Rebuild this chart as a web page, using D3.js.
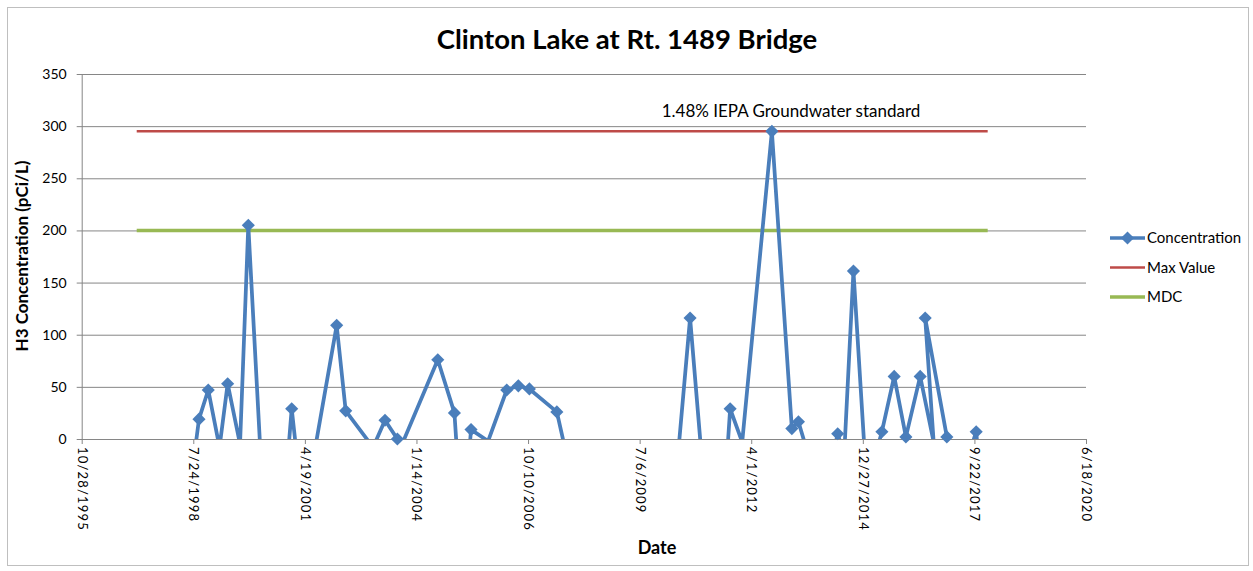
<!DOCTYPE html>
<html>
<head>
<meta charset="utf-8">
<script src="https://cdn.jsdelivr.net/npm/d3@7"></script>
<style>
  body { margin: 0; background: #fff; }
  svg text { font-family: Lato, "Open Sans", sans-serif; fill: #000; }
</style>
</head>
<body>
<script>
const width = 1253;
const height = 571;

// sample dates and H3 concentrations (pCi/L); negatives fall below the axis and get clipped
const sampleDates = [
  "1997-03-04", "1997-09-29", "1998-03-27", "1998-08-09", "1998-09-13", "1998-12-05",
  "1999-03-16", "1999-05-28", "1999-09-16", "1999-11-29", "2000-03-13", "2000-07-25",
  "2000-11-19", "2000-12-22", "2001-02-10", "2001-07-18", "2002-01-29", "2002-04-20",
  "2002-12-21", "2003-04-07", "2003-07-27", "2003-09-07", "2004-07-23", "2004-12-19",
  "2005-01-16", "2005-04-29", "2005-05-17", "2005-10-17", "2006-04-02", "2006-07-15",
  "2006-10-22", "2007-06-25", "2007-08-29", "2008-07-17", "2009-07-10", "2010-06-11",
  "2010-10-01", "2011-01-11", "2011-08-29", "2011-09-25", "2012-01-11", "2012-10-03",
  "2013-03-31", "2013-05-29", "2013-07-28", "2014-04-14", "2014-05-16", "2014-07-13",
  "2014-10-04", "2015-01-08", "2015-05-21", "2015-06-16", "2015-10-04", "2016-01-17",
  "2016-05-24", "2016-09-22", "2016-07-08", "2017-01-18", "2017-02-17", "2017-09-02",
  "2017-10-08", "2017-11-08", "2018-01-19"
];
const concentration = [
  -20, -30, -10, -10, 19, 47,
  -8, 53, -5, 205, -5, -20,
  -15, 29, -20, -10, 109, 27,
  -8, 18, 0, -5, 76, 25,
  -20, -15, 9, -2, 47, 51,
  48, 26, -5, -30, -15, -20,
  116, -15, -15, 29, -3, 295,
  10, 16.5, -5, -10, 5, -15,
  161, -5, -3, 7, 60, 2,
  60, -3, 116, 2, -5, -5,
  7, -30, -10
];

const maxValue = 295;
const mdcValue = 200;
const refLineDates = ["1997-03-04", "2018-01-19"];

const xTickLabels = ["10/28/1995", "7/24/1998", "4/19/2001", "1/14/2004", "10/10/2006",
                     "7/6/2009", "4/1/2012", "12/27/2014", "9/22/2017", "6/18/2020"];
const yTicks = [0, 50, 100, 150, 200, 250, 300, 350];

const seriesNames = ["Concentration", "Max Value", "MDC"];
const seriesColors = ["#4a7ebb", "#be4b48", "#98b954"];

const plot = { left: 81.7, right: 1086, top: 74, bottom: 439 };

const parseDate = d3.utcParse("%Y-%m-%d");
const parseTick = d3.utcParse("%m/%d/%Y");

const points = sampleDates.map((d, i) => ({ date: parseDate(d), value: concentration[i] }));

const x = d3.scaleUtc()
    .domain([parseTick(xTickLabels[0]), parseTick(xTickLabels[xTickLabels.length - 1])])
    .range([plot.left, plot.right]);

const y = d3.scaleLinear()
    .domain([0, 350])
    .range([plot.bottom, plot.top]);

const svg = d3.select("body")
    .append("svg")
    .attr("width", width)
    .attr("height", height);

// chart area border
svg.append("rect")
    .attr("x", 7.5).attr("y", 7.5)
    .attr("width", 1241).attr("height", 558)
    .attr("fill", "#fff")
    .attr("stroke", "#bfbfbf");

// horizontal gridlines + y axis
const yAxis = d3.axisLeft(y)
    .tickValues(yTicks)
    .tickSize(-(plot.right - plot.left))
    .tickPadding(15);

const gy = svg.append("g")
    .attr("transform", `translate(${plot.left},0)`)
    .call(yAxis);
gy.select(".domain").attr("stroke", "#868686");
gy.selectAll(".tick line").attr("stroke", "#868686").attr("x1", -5);
gy.selectAll(".tick text").attr("font-size", 14).attr("font-family", "Lato");

// x axis with rotated date labels
const xAxis = d3.axisBottom(x)
    .tickValues(xTickLabels.map(parseTick))
    .tickFormat((d, i) => xTickLabels[i])
    .tickSize(5)
    .tickSizeOuter(0);

const gx = svg.append("g")
    .attr("transform", `translate(0,${plot.bottom})`)
    .call(xAxis);
gx.select(".domain").attr("stroke", "#868686");
gx.selectAll(".tick line").attr("stroke", "#868686");
gx.selectAll(".tick text")
    .attr("font-family", "DejaVu Sans")
    .attr("font-size", 13)
    .attr("letter-spacing", 1.2)
    .attr("text-anchor", "start")
    .attr("transform", "rotate(90)")
    .attr("x", 8)
    .attr("y", 0)
    .attr("dy", "0.35em");

// clip for lines
svg.append("clipPath")
    .attr("id", "plotclip")
    .append("rect")
    .attr("x", plot.left).attr("y", plot.top)
    .attr("width", plot.right - plot.left)
    .attr("height", plot.bottom - plot.top);

const refLine = d3.line()
    .x(d => x(d.date))
    .y(d => y(d.value));

// MDC
svg.append("path")
    .datum(refLineDates.map(d => ({ date: parseDate(d), value: mdcValue })))
    .attr("d", refLine)
    .attr("fill", "none")
    .attr("stroke", seriesColors[2])
    .attr("stroke-width", 3.5);

// Max value
svg.append("path")
    .datum(refLineDates.map(d => ({ date: parseDate(d), value: maxValue })))
    .attr("d", refLine)
    .attr("fill", "none")
    .attr("stroke", seriesColors[1])
    .attr("stroke-width", 2.5);

// concentration line
svg.append("path")
    .datum(points)
    .attr("d", refLine)
    .attr("clip-path", "url(#plotclip)")
    .attr("fill", "none")
    .attr("stroke", seriesColors[0])
    .attr("stroke-width", 3.75)
    .attr("stroke-linejoin", "round");

const diamond = d3.symbol().type(d3.symbolDiamond2).size(110);

svg.append("g")
    .selectAll("path")
    .data(points.filter(d => d.value >= 0))
    .join("path")
    .attr("d", diamond)
    .attr("transform", d => `translate(${x(d.date)},${y(d.value)})`)
    .attr("fill", seriesColors[0]);

// annotation
svg.append("text")
    .attr("x", 791)
    .attr("y", 117)
    .attr("text-anchor", "middle")
    .attr("font-size", 17)
    .text("1.48% IEPA Groundwater standard");

// title
svg.append("text")
    .attr("x", 627)
    .attr("y", 49)
    .attr("text-anchor", "middle")
    .attr("font-size", 27.5)
    .attr("font-weight", "bold")
    .text("Clinton Lake at Rt. 1489 Bridge");

// axis titles
svg.append("text")
    .attr("transform", "translate(28,256) rotate(-90)")
    .attr("text-anchor", "middle")
    .attr("font-size", 17)
    .attr("font-weight", "bold")
    .text("H3 Concentration (pCi/L)");

svg.append("text")
    .attr("x", 657)
    .attr("y", 554)
    .attr("text-anchor", "middle")
    .attr("font-size", 18)
    .attr("font-weight", "bold")
    .text("Date");

// legend
const legend = svg.append("g")
    .attr("transform", "translate(1110,238)");

const rows = legend.selectAll("g")
    .data(seriesNames)
    .join("g")
    .attr("transform", (d, i) => `translate(0,${i * 29.5})`);

rows.append("line")
    .attr("x1", 0).attr("x2", 35)
    .attr("stroke", (d, i) => seriesColors[i])
    .attr("stroke-width", (d, i) => i === 1 ? 2.5 : 3.5);

rows.filter((d, i) => i === 0)
    .append("path")
    .attr("d", diamond)
    .attr("transform", "translate(17.5,0)")
    .attr("fill", seriesColors[0]);

rows.append("text")
    .attr("x", 37)
    .attr("dy", "0.35em")
    .attr("font-size", 15)
    .text(d => d);
</script>
</body>
</html>
